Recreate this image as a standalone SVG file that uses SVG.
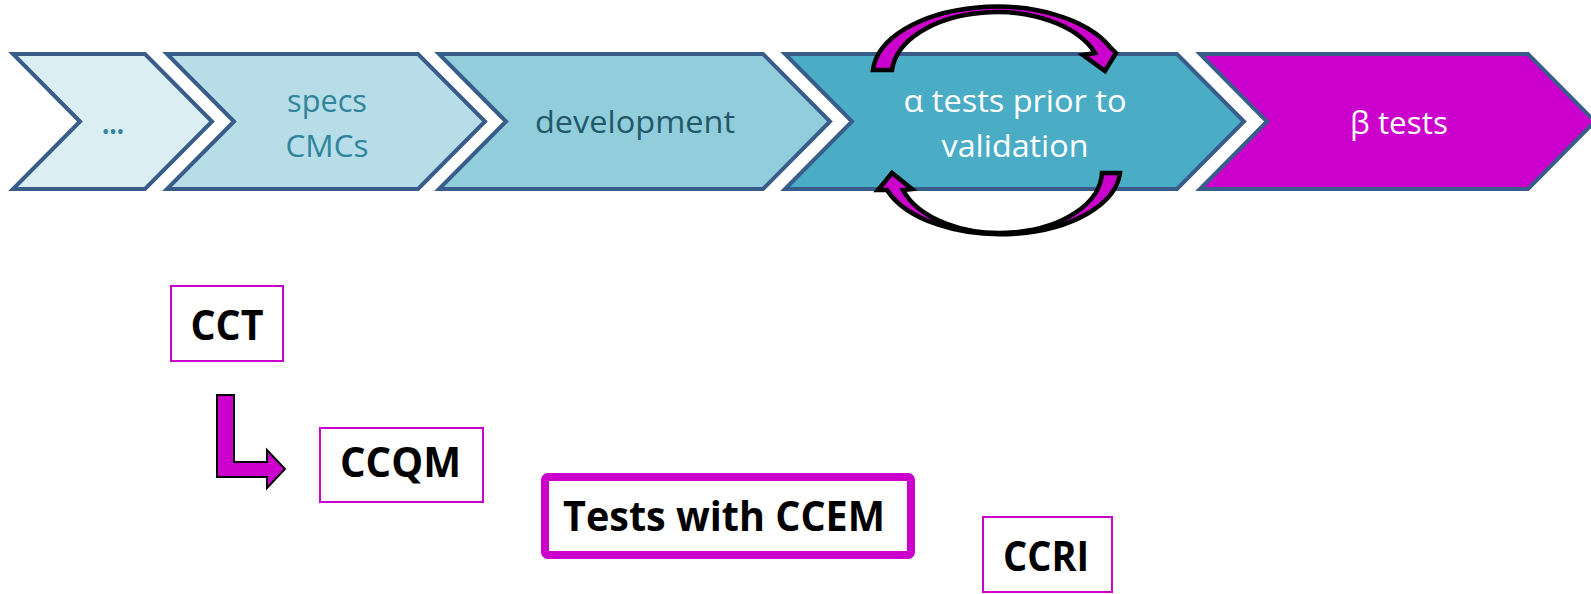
<svg xmlns="http://www.w3.org/2000/svg" width="1591" height="594" viewBox="0 0 1591 594">
<style>
.chev{stroke:#385D8A;stroke-width:4;stroke-linejoin:miter}
.ct{font-family:"Open Sans","Liberation Sans",sans-serif;font-size:31px;text-anchor:middle}
.bt{font-family:"Open Sans","Liberation Sans",sans-serif;font-size:41px;font-weight:bold;text-anchor:middle;fill:#000}
.box{fill:#fff;stroke:#CC00CC;stroke-width:2}
.arr{fill:#CC00CC;stroke:#000;stroke-linejoin:miter}
</style>
<rect width="1591" height="594" fill="#fff"/>
<g id="chevron-1">
<polygon class="chev" fill="#DBEEF3" points="13,54 145,54 212,121.5 145,189 13,189 80,121.5"/>
<text class="ct" x="113" y="134" fill="#31849B" font-weight="bold" textLength="22" lengthAdjust="spacingAndGlyphs">…</text>
</g>
<g id="chevron-2">
<polygon class="chev" fill="#B7DDE8" points="167,54 418,54 485,121.5 418,189 167,189 234,121.5"/>
<text class="ct" x="327" y="112" fill="#31849B" textLength="80" lengthAdjust="spacingAndGlyphs">specs</text>
<text class="ct" x="327" y="157" fill="#31849B" textLength="83" lengthAdjust="spacingAndGlyphs">CMCs</text>
</g>
<g id="chevron-3">
<polygon class="chev" fill="#92CDDC" points="439,54 763,54 830,121.5 763,189 439,189 506,121.5"/>
<text class="ct" x="635" y="133" fill="#215968" textLength="200" lengthAdjust="spacingAndGlyphs">development</text>
</g>
<g id="chevron-4">
<polygon class="chev" fill="#4BACC6" points="785,54 1177,54 1244,121.5 1177,189 785,189 852,121.5"/>
<text class="ct" x="1015" y="112" fill="#fff" textLength="223" lengthAdjust="spacingAndGlyphs">α tests prior to</text>
<text class="ct" x="1015" y="157" fill="#fff" textLength="147" lengthAdjust="spacingAndGlyphs">validation</text>
</g>
<g id="chevron-5">
<polygon class="chev" fill="#CC00CC" points="1200,54 1528,54 1595,121.5 1528,189 1200,189 1267,121.5"/>
<text class="ct" x="1399" y="134" fill="#fff" textLength="98" lengthAdjust="spacingAndGlyphs">β tests</text>
</g>
<g id="connectors">
<path class="arr" stroke-width="4.5" d="M 873,70 A 124 68 0 0 1 1110,47 L 1116,53 L 1105,71 L 1083,55 L 1095,53 A 105 63 0 0 0 892,70 Z"/>
<path class="arr" stroke-width="4.5" d="M 1120,173 A 120 66 0 0 1 887,190 L 878,190 L 892,173 L 912,189 L 903,190 A 102 62 0 0 0 1102,173 Z"/>
<polygon class="arr" stroke-width="2" points="217,395 234,395 234,462 267,462 267,450 285,469 267,488 267,477 217,477"/>
</g>
<g id="node-cct">
<rect class="box" x="171" y="286" width="112" height="75"/>
<text class="bt" x="227" y="340" textLength="73" lengthAdjust="spacingAndGlyphs">CCT</text>
</g>
<g id="node-ccqm">
<rect class="box" x="320" y="428" width="163" height="74"/>
<text class="bt" x="400.5" y="477" textLength="121" lengthAdjust="spacingAndGlyphs">CCQM</text>
</g>
<g id="node-ccem">
<rect x="545" y="477" width="366" height="78" rx="3" fill="#fff" stroke="#CC00CC" stroke-width="8"/>
<text class="bt" x="724" y="531" textLength="322" lengthAdjust="spacingAndGlyphs">Tests with CCEM</text>
</g>
<g id="node-ccri">
<rect class="box" x="983" y="517" width="129" height="75"/>
<text class="bt" x="1046" y="571" textLength="86" lengthAdjust="spacingAndGlyphs">CCRI</text>
</g>
</svg>
